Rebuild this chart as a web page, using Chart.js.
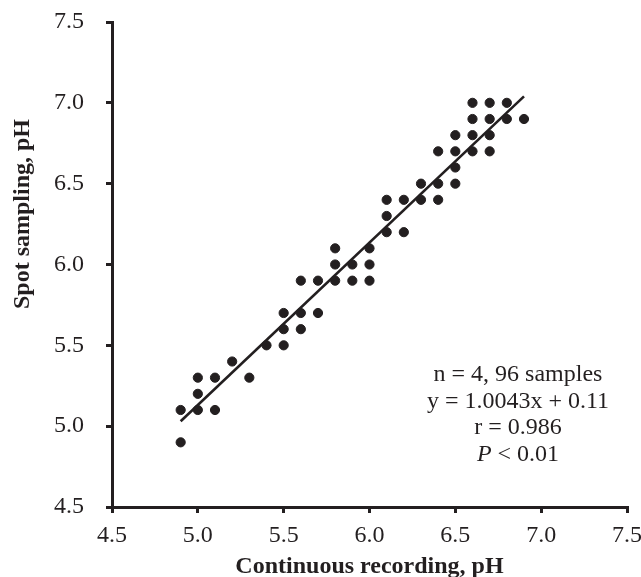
<!DOCTYPE html>
<html>
<head>
<meta charset="utf-8">
<script src="https://cdn.jsdelivr.net/npm/chart.js@4.4.1/dist/chart.umd.min.js"></script>
<style>
  html, body { margin: 0; padding: 0; background: #fff; }
  #wrap { width: 641px; height: 577px; }
</style>
</head>
<body>
<div id="wrap"><canvas id="grafik" width="641" height="577"></canvas></div>
<script>
// nilai (continuous recording vs spot sampling)
const kontinu = [
  4.9, 4.9,
  5.0, 5.0, 5.0,
  5.1, 5.1,
  5.2,
  5.3,
  5.4,
  5.5, 5.5, 5.5,
  5.6, 5.6, 5.6,
  5.7, 5.7,
  5.8, 5.8, 5.8,
  5.9, 5.9,
  6.0, 6.0, 6.0,
  6.1, 6.1, 6.1,
  6.2, 6.2,
  6.3, 6.3,
  6.4, 6.4, 6.4,
  6.5, 6.5, 6.5, 6.5,
  6.6, 6.6, 6.6, 6.6,
  6.7, 6.7, 6.7, 6.7,
  6.8, 6.8,
  6.9
];
const spot = [
  5.1, 4.9,
  5.3, 5.2, 5.1,
  5.3, 5.1,
  5.4,
  5.3,
  5.5,
  5.7, 5.6, 5.5,
  5.9, 5.7, 5.6,
  5.9, 5.7,
  6.1, 6.0, 5.9,
  6.0, 5.9,
  6.1, 6.0, 5.9,
  6.4, 6.3, 6.2,
  6.4, 6.2,
  6.5, 6.4,
  6.7, 6.5, 6.4,
  6.8, 6.7, 6.6, 6.5,
  7.0, 6.9, 6.8, 6.7,
  7.0, 6.9, 6.8, 6.7,
  7.0, 6.9,
  6.9
];
// garis regresi (ujung-ujungnya)
const garisX = [4.9, 6.9];
const garisY = [5.03, 7.04];
const teksInfo = ["n = 4, 96 samples", "y = 1.0043x + 0.11", "r = 0.986", "P < 0.01"];
const judulY = "Spot sampling, pH";

const hitam = "#231f20";
const hurufSerif = "'Liberation Serif', 'Times New Roman', serif";
const ukuran = 24;

// plugin kecil: kotak teks statistik + judul sumbu Y (posisinya agak ke atas seperti aslinya)
const infoPlugin = {
  id: "infoTeks",
  afterDraw(chart) {
    const { ctx, chartArea } = chart;
    const cx = chartArea.left + 406;
    let y = chartArea.top + 359;
    const biasa = ukuran + "px " + hurufSerif;
    const miring = "italic " + ukuran + "px " + hurufSerif;
    ctx.save();
    ctx.fillStyle = hitam;
    ctx.textBaseline = "alphabetic";
    teksInfo.forEach(t => {
      if (t.startsWith("P ")) {
        // P miring, sisanya tegak
        const sisa = t.slice(1);
        ctx.font = miring;
        const wP = ctx.measureText("P").width;
        ctx.font = biasa;
        const wS = ctx.measureText(sisa).width;
        const x0 = cx - (wP + wS) / 2;
        ctx.textAlign = "left";
        ctx.font = miring;
        ctx.fillText("P", x0, y);
        ctx.font = biasa;
        ctx.fillText(sisa, x0 + wP, y);
      } else {
        ctx.font = biasa;
        ctx.textAlign = "center";
        ctx.fillText(t, cx, y);
      }
      y += 26.5;
    });

    // judul sumbu Y
    ctx.translate(23, chartArea.top + 192);
    ctx.rotate(-Math.PI / 2);
    ctx.font = "bold " + ukuran + "px " + hurufSerif;
    ctx.textAlign = "center";
    ctx.textBaseline = "middle";
    ctx.fillText(judulY, 0, 0);
    ctx.restore();
  }
};

const ctx = document.getElementById("grafik").getContext("2d");
new Chart(ctx, {
  type: "scatter",
  data: {
    datasets: [
      {
        label: "Titik",
        data: kontinu.map((x, i) => ({ x, y: spot[i] })),
        backgroundColor: hitam,
        borderColor: hitam,
        pointRadius: 4.6,
        pointHoverRadius: 4.6
      },
      {
        type: "line",
        label: "Regresi",
        data: garisX.map((x, i) => ({ x, y: garisY[i] })),
        borderColor: hitam,
        borderWidth: 2.6,
        pointRadius: 0,
        fill: false
      }
    ]
  },
  options: {
    responsive: false,
    animation: false,
    layout: { padding: { left: 0, top: 22, right: 14, bottom: 0 } },
    plugins: { legend: { display: false }, tooltip: { enabled: false } },
    scales: {
      x: {
        type: "linear",
        min: 4.5, max: 7.5,
        afterFit: s => { s.height = 70; s.paddingRight = 0; s.paddingLeft = 0; },
        border: { display: true, color: hitam, width: 3 },
        grid: { drawOnChartArea: false, drawTicks: true, tickLength: 6, lineWidth: 3, color: hitam },
        ticks: {
          stepSize: 0.5,
          color: hitam,
          padding: 8,
          maxRotation: 0,
          font: { family: hurufSerif, size: ukuran },
          callback: v => v.toFixed(1)
        },
        title: {
          display: true,
          text: "Continuous recording, pH",
          color: hitam,
          font: { family: hurufSerif, size: ukuran, weight: "bold" },
          padding: { top: 0, bottom: -4 }
        }
      },
      y: {
        type: "linear",
        min: 4.5, max: 7.5,
        afterFit: s => { s.width = 112; s.paddingTop = 0; s.paddingBottom = 0; },
        border: { display: true, color: hitam, width: 3 },
        grid: { drawOnChartArea: false, drawTicks: true, tickLength: 6, lineWidth: 3, color: hitam },
        ticks: {
          stepSize: 0.5,
          color: hitam,
          padding: 22,
          font: { family: hurufSerif, size: ukuran },
          callback: v => v.toFixed(1)
        },
        title: { display: false }
      }
    }
  },
  plugins: [infoPlugin]
});
</script>
</body>
</html>
